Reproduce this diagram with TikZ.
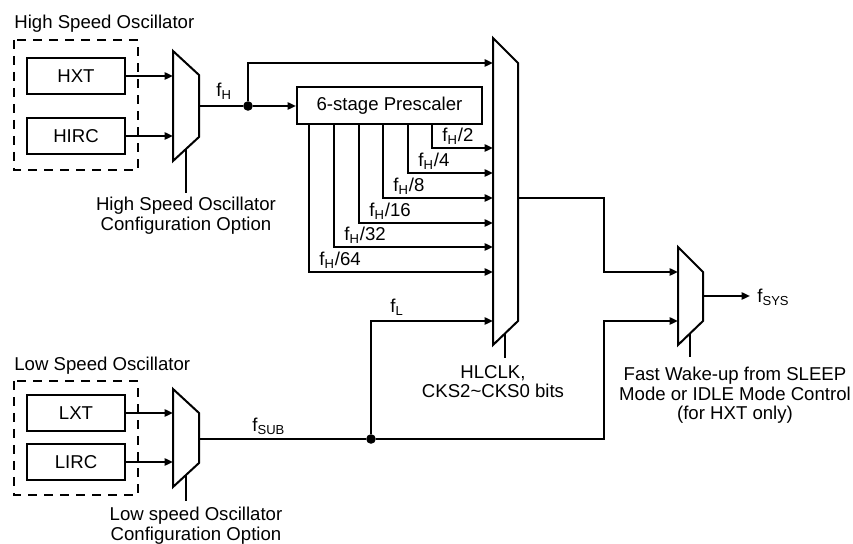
\documentclass[tikz,border=0pt]{standalone}
\usepackage{fontspec}
\setmainfont{Liberation Sans}
\usetikzlibrary{arrows.meta}
\tikzset{
    wire/.style={line width=1pt},
    sig/.style={wire,-{Triangle[length=4.2pt,width=3.6pt]}},
    blk/.style={draw,line width=1pt,minimum width=49pt,minimum height=18pt,inner sep=0pt},
    grp/.style={draw,line width=1pt,dash pattern=on 4.5pt off 3.5pt},
    dot/.style={circle,fill,inner sep=0pt,minimum size=4.8pt},
    lbl/.style={inner sep=0pt,align=center},
    sub/.style={inner sep=0pt,anchor=base west}
}
\begin{document}
\begin{tikzpicture}[x=0.5pt,y=-0.5pt,font=\fontsize{9.3pt}{9.6pt}\selectfont]
\useasboundingbox (0,0) rectangle (853,544);

% oscillator groups
\node[lbl,anchor=north west] (hosc) at (14,15) {High Speed Oscillator};
\draw[grp] (14,40) rectangle (138,170);
\node[blk] (hxt) at (76,76) {HXT};
\node[blk] (hirc) at (76,136) {HIRC};
\node[lbl,anchor=north west] (losc) at (14,357) {Low Speed Oscillator};
\draw[grp] (14,381) rectangle (138,495);
\node[blk] (lxt) at (76,413) {LXT};
\node[blk] (lirc) at (76,462) {LIRC};

% multiplexers
\draw[wire] (173,51) -- (199,75) -- (199,137) -- (173,161) -- cycle;
\draw[wire] (173,389) -- (199,413) -- (199,463) -- (173,487) -- cycle;
\draw[wire] (493,38) -- (518,63) -- (518,321) -- (493,345) -- cycle;
\draw[wire] (678,247) -- (703,272) -- (703,321) -- (678,345) -- cycle;
\coordinate (hmo) at (199,106);
\coordinate (lmo) at (199,439);
\coordinate (cmo) at (518,198);
\coordinate (smo) at (703,296);
\coordinate (hmc) at (186,149);
\coordinate (lmc) at (186,475);
\coordinate (cmc) at (505,333);
\coordinate (smc) at (690,334);

% high speed path
\draw[sig] (hxt) -- (173,76);
\draw[sig] (hirc) -- (173,136);
\node[dot] (hdot) at (248,106) {};
\draw[wire] (hmo) -- (hdot);
\node[sub] (fh) at (216,97) {f\textsubscript{H}};
\node[blk,minimum width=92.5pt,minimum height=18.5pt] (pre) at (389.5,106) {6-stage Prescaler};
\draw[sig] (hdot) -- (pre);
\draw[sig] (hdot) |- (493,63);
\foreach \px/\py/\d in {432/148/2,408/173/4,383/198/8,359/223/16,334/247/32,309/272/64}{
    \draw[sig] (pre.south -| \px,0) |- (493,\py);
    \node[sub] (fh\d) at (\px+10,\py-6) {f\textsubscript{H}/\d};
}

% low speed path
\draw[sig] (lxt) -- (173,413);
\draw[sig] (lirc) -- (173,462);
\node[dot] (ldot) at (371,439) {};
\draw[wire] (lmo) -- (ldot);
\node[sub] (fsub) at (252,432) {f\textsubscript{SUB}};
\draw[sig] (ldot) |- (493,321);
\node[sub] (fl) at (390,313) {f\textsubscript{L}};
\draw[sig] (ldot) -| (604,321) -- (678,321);

% system clock
\draw[sig] (cmo) -| (604,272) -- (678,272);
\coordinate (sysout) at (750,296);
\draw[sig] (smo) -- (sysout);
\node[sub] (fsys) at (757,303) {f\textsubscript{SYS}};

% control inputs
\draw[wire] (hmc) -- (186,193);
\node[lbl,anchor=north] (hcfg) at (186,197) {High Speed Oscillator\\Configuration Option};
\draw[wire] (lmc) -- (186,501);
\node[lbl,anchor=north] (lcfg) at (196,507) {Low speed Oscillator\\Configuration Option};
\draw[wire] (cmc) -- (505,358);
\node[lbl,anchor=north] (csel) at (493,365) {HLCLK,\\CKS2\textasciitilde CKS0 bits};
\draw[wire] (smc) -- (690,357);
\node[lbl,anchor=north] (wake) at (735,367) {Fast Wake-up from SLEEP\\Mode or IDLE Mode Control\\(for HXT only)};
\end{tikzpicture}
\end{document}
